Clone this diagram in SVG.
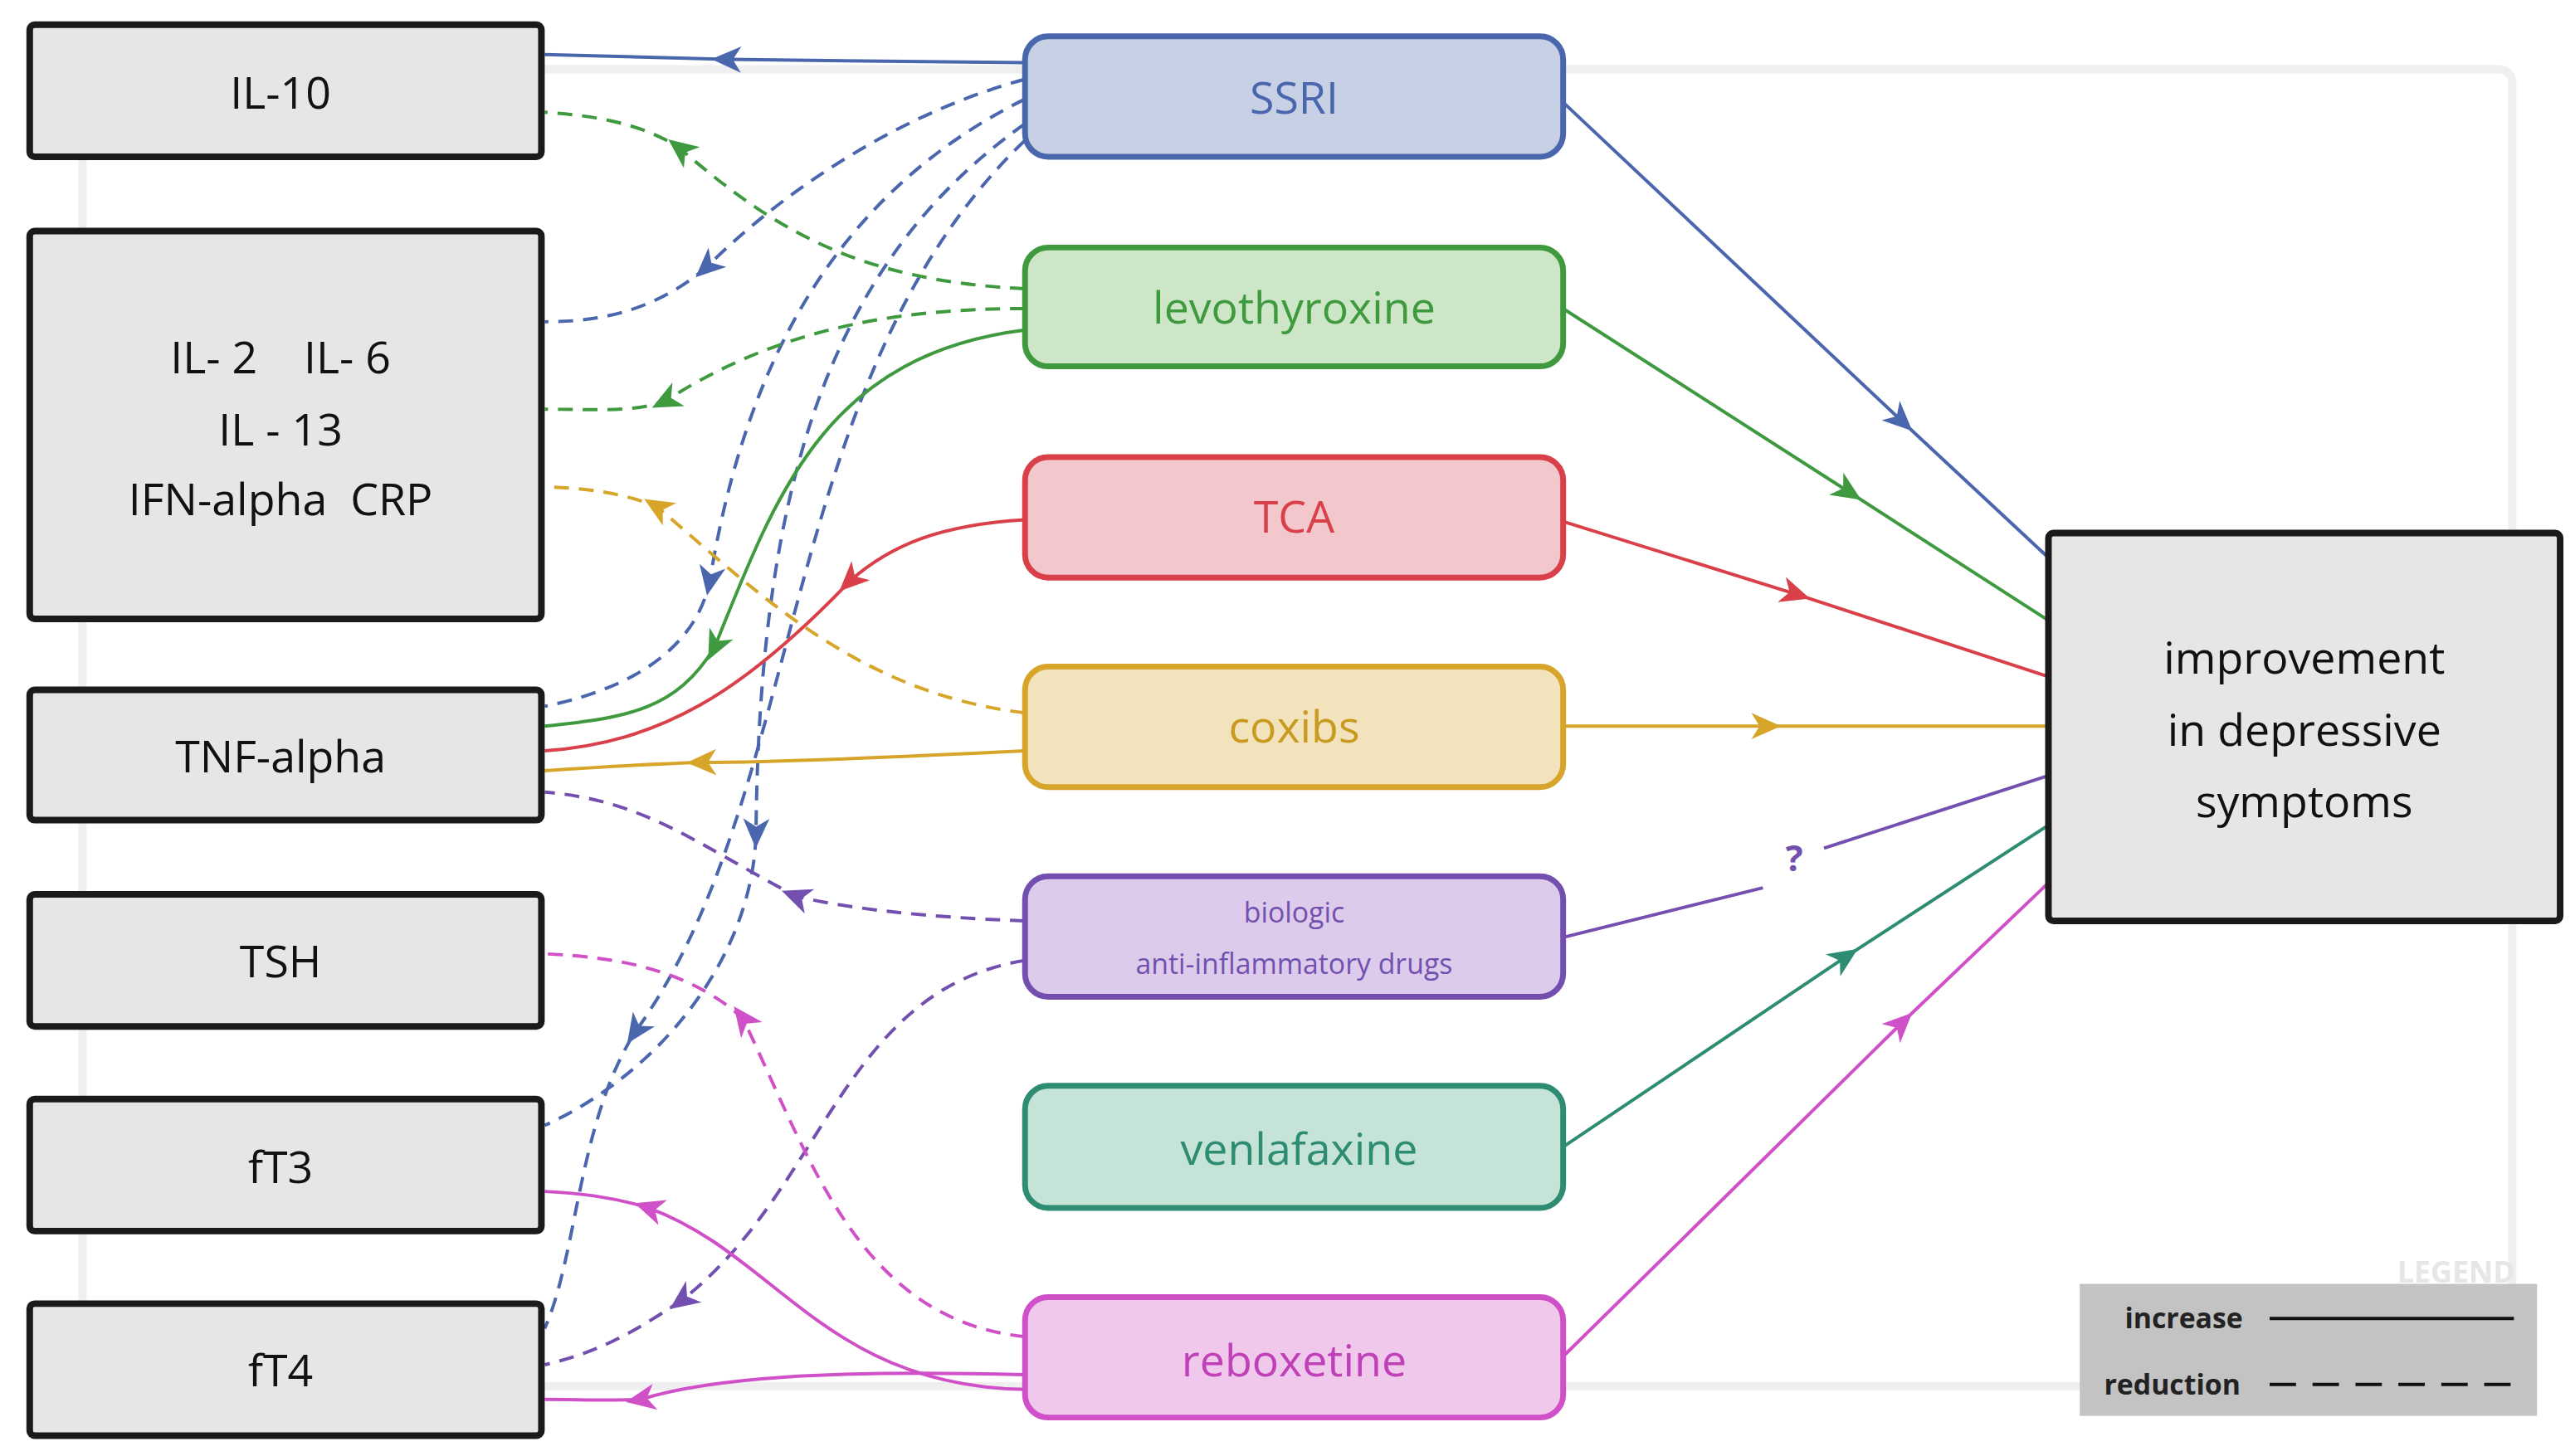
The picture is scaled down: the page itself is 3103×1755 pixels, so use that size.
<svg xmlns="http://www.w3.org/2000/svg" width="3103" height="1755" viewBox="0 0 3103 1755">
<defs>
<style>
.lb{fill:#e6e6e6;stroke:#1a1a1a;stroke-width:4}
.lt{font-family:"Open Sans","Liberation Sans",sans-serif;font-size:27px;fill:#111;text-anchor:middle}
.mt{font-family:"Open Sans","Liberation Sans",sans-serif;font-size:27px;text-anchor:middle}
.sm{font-size:17px}
.c{fill:none;stroke-width:2}
.d{stroke-dasharray:9,6}
</style>
<marker id="mb" markerUnits="userSpaceOnUse" markerWidth="28" markerHeight="28" refX="3" refY="0" viewBox="-14 -14 28 28" orient="auto"><path d="M-6,-8 L12,0 L-6,8 L-1,0 z" fill="#4a66ad"/></marker>
<marker id="mg" markerUnits="userSpaceOnUse" markerWidth="28" markerHeight="28" refX="3" refY="0" viewBox="-14 -14 28 28" orient="auto"><path d="M-6,-8 L12,0 L-6,8 L-1,0 z" fill="#3f9a3f"/></marker>
<marker id="mr" markerUnits="userSpaceOnUse" markerWidth="28" markerHeight="28" refX="3" refY="0" viewBox="-14 -14 28 28" orient="auto"><path d="M-6,-8 L12,0 L-6,8 L-1,0 z" fill="#d9404a"/></marker>
<marker id="mo" markerUnits="userSpaceOnUse" markerWidth="28" markerHeight="28" refX="3" refY="0" viewBox="-14 -14 28 28" orient="auto"><path d="M-6,-8 L12,0 L-6,8 L-1,0 z" fill="#d6a52a"/></marker>
<marker id="mp" markerUnits="userSpaceOnUse" markerWidth="28" markerHeight="28" refX="3" refY="0" viewBox="-14 -14 28 28" orient="auto"><path d="M-6,-8 L12,0 L-6,8 L-1,0 z" fill="#7350b0"/></marker>
<marker id="mt" markerUnits="userSpaceOnUse" markerWidth="28" markerHeight="28" refX="3" refY="0" viewBox="-14 -14 28 28" orient="auto"><path d="M-6,-8 L12,0 L-6,8 L-1,0 z" fill="#2e8c72"/></marker>
<marker id="mm" markerUnits="userSpaceOnUse" markerWidth="28" markerHeight="28" refX="3" refY="0" viewBox="-14 -14 28 28" orient="auto"><path d="M-6,-8 L12,0 L-6,8 L-1,0 z" fill="#d050c8"/></marker>
</defs>
<rect width="3103" height="1755" fill="#fff"/>
<g transform="scale(1.9891)">
<rect x="50" y="42" width="1472" height="798" rx="8" fill="none" stroke="#efefef" stroke-width="5"/>
<g id="connectors">
<path class="c" stroke="#4a66ad" marker-mid="url(#mb)" d="M621,38 L440,36 L330,33"/>
<path class="c d" stroke="#4a66ad" marker-mid="url(#mb)" d="M621,48 C540,70 470,120 428,162 C395,190 360,195 330,195"/>
<path class="c d" stroke="#4a66ad" marker-mid="url(#mb)" d="M621,60 C500,120 450,230 430,352 C420,400 370,420 330,428"/>
<path class="c d" stroke="#4a66ad" marker-mid="url(#mb)" d="M621,75 C500,160 460,300 458,505 C456,580 400,650 330,682"/>
<path class="c d" stroke="#4a66ad" marker-mid="url(#mb)" d="M621,85 C470,230 490,480 385,625 C350,680 350,760 330,805"/>
<path class="c d" stroke="#3f9a3f" marker-mid="url(#mg)" d="M621,175 C520,170 470,140 412,90 C390,75 360,70 330,68"/>
<path class="c d" stroke="#3f9a3f" marker-mid="url(#mg)" d="M621,187 C540,187 470,200 403,243 C385,250 360,248 330,248"/>
<path class="c" stroke="#3f9a3f" marker-mid="url(#mg)" d="M621,200 C500,215 470,300 433,392 C410,430 380,435 330,440"/>
<path class="c" stroke="#d9404a" marker-mid="url(#mr)" d="M621,315 C570,318 540,330 515,352 C450,420 400,450 330,455"/>
<path class="c d" stroke="#d6a52a" marker-mid="url(#mo)" d="M621,432 C520,420 460,360 398,307 C375,298 355,296 330,295"/>
<path class="c" stroke="#d6a52a" marker-mid="url(#mo)" d="M621,455 C560,458 470,462 425,462 C390,463 360,465 330,467"/>
<path class="c d" stroke="#7350b0" marker-mid="url(#mp)" d="M621,558 C560,556 510,550 482,543 C420,510 390,485 330,480"/>
<path class="c d" stroke="#7350b0" marker-mid="url(#mp)" d="M621,582 C510,600 500,720 413,788 C380,810 360,820 330,827"/>
<path class="c d" stroke="#d050c8" marker-mid="url(#mm)" d="M621,810 C520,800 490,700 450,617 C420,590 380,580 330,578"/>
<path class="c" stroke="#d050c8" marker-mid="url(#mm)" d="M621,842 C500,840 470,760 393,732 C370,725 350,723 330,722"/>
<path class="c" stroke="#d050c8" marker-mid="url(#mm)" d="M621,833 C500,830 430,835 388,848 C370,849 350,848 330,848"/>
<path class="c" stroke="#4a66ad" marker-mid="url(#mb)" d="M947,62 L1152,255 L1241,338"/>
<path class="c" stroke="#3f9a3f" marker-mid="url(#mg)" d="M947,187 L1120,298 L1241,376"/>
<path class="c" stroke="#d9404a" marker-mid="url(#mr)" d="M947,316 L1088,360 L1241,410"/>
<path class="c" stroke="#d6a52a" marker-mid="url(#mo)" d="M947,440 L1070,440 L1241,440"/>
<path class="c" stroke="#7350b0" d="M947,568 L1068,538 M1105,514 L1241,470"/>
<text x="1087" y="528" font-family="Open Sans,Liberation Sans,sans-serif" font-size="22" font-weight="bold" fill="#7350b0" text-anchor="middle">?</text>
<path class="c" stroke="#2e8c72" marker-mid="url(#mt)" d="M947,695 L1118,580 L1241,500"/>
<path class="c" stroke="#d050c8" marker-mid="url(#mm)" d="M947,822 L1152,620 L1241,535"/>
</g>
<g id="il10"><rect class="lb" x="18" y="15" width="310" height="80" rx="3"/><text class="lt" x="170" y="66">IL-10</text></g>
<g id="il2"><rect class="lb" x="18" y="140" width="310" height="235" rx="3"/><text class="lt" x="170" y="226" xml:space="preserve">IL- 2    IL- 6</text><text class="lt" x="170" y="270">IL - 13</text><text class="lt" x="170" y="312" xml:space="preserve">IFN-alpha  CRP</text></g>
<g id="tnf"><rect class="lb" x="18" y="418" width="310" height="79" rx="3"/><text class="lt" x="170" y="468">TNF-alpha</text></g>
<g id="tsh"><rect class="lb" x="18" y="542" width="310" height="80" rx="3"/><text class="lt" x="170" y="592">TSH</text></g>
<g id="ft3"><rect class="lb" x="18" y="666" width="310" height="80" rx="3"/><text class="lt" x="170" y="717">fT3</text></g>
<g id="ft4"><rect class="lb" x="18" y="790" width="310" height="80" rx="3"/><text class="lt" x="170" y="840">fT4</text></g>
<g id="ssri"><rect x="621" y="22" width="326" height="73" rx="14" fill="#c8d0e6" stroke="#4a66ad" stroke-width="3.5"/><text class="mt" x="784" y="69" fill="#4a66ad">SSRI</text></g>
<g id="levo"><rect x="621" y="150" width="326" height="72" rx="14" fill="#cde6c8" stroke="#3f9a3f" stroke-width="3.5"/><text class="mt" x="784" y="196" fill="#3f9a3f">levothyroxine</text></g>
<g id="tca"><rect x="621" y="277" width="326" height="73" rx="14" fill="#f2c8cc" stroke="#d9404a" stroke-width="3.5"/><text class="mt" x="784" y="323" fill="#d9404a">TCA</text></g>
<g id="coxibs"><rect x="621" y="404" width="326" height="73" rx="14" fill="#f3e3bd" stroke="#d6a52a" stroke-width="3.5"/><text class="mt" x="784" y="450" fill="#c99a20">coxibs</text></g>
<g id="bio"><rect x="621" y="531" width="326" height="73" rx="14" fill="#dccbea" stroke="#7350b0" stroke-width="3.5"/><text class="mt sm" x="784" y="559" fill="#7350b0">biologic</text><text class="mt sm" x="784" y="590" fill="#7350b0">anti-inflammatory drugs</text></g>
<g id="venla"><rect x="621" y="658" width="326" height="74" rx="14" fill="#c6e3d8" stroke="#2e8c72" stroke-width="3.5"/><text class="mt" x="787" y="706" fill="#2e8c72">venlafaxine</text></g>
<g id="rebox"><rect x="621" y="786" width="326" height="73" rx="14" fill="#efc8ec" stroke="#d050c8" stroke-width="3.5"/><text class="mt" x="784" y="834" fill="#c040b8">reboxetine</text></g>
<g id="improvement"><rect class="lb" x="1241" y="323" width="310" height="235" rx="3"/><text class="lt" x="1396" y="408">improvement</text><text class="lt" x="1396" y="452">in depressive</text><text class="lt" x="1396" y="495">symptoms</text></g>
<g id="legend">
<rect x="1260" y="778" width="277" height="80" fill="#c3c3c3"/>
<text x="1488" y="777" font-family="Open Sans,Liberation Sans,sans-serif" font-size="18" font-weight="bold" fill="#e6e6e6" text-anchor="middle">LEGEND</text>
<text x="1323" y="805" font-family="Open Sans,Liberation Sans,sans-serif" font-size="17" font-weight="bold" fill="#222" text-anchor="middle">increase</text>
<text x="1316" y="845" font-family="Open Sans,Liberation Sans,sans-serif" font-size="17" font-weight="bold" fill="#222" text-anchor="middle">reduction</text>
<line x1="1375" y1="799" x2="1523" y2="799" stroke="#111" stroke-width="2"/>
<line x1="1375" y1="839" x2="1523" y2="839" stroke="#111" stroke-width="2" stroke-dasharray="16,10"/>
</g>
</g>
</svg>
